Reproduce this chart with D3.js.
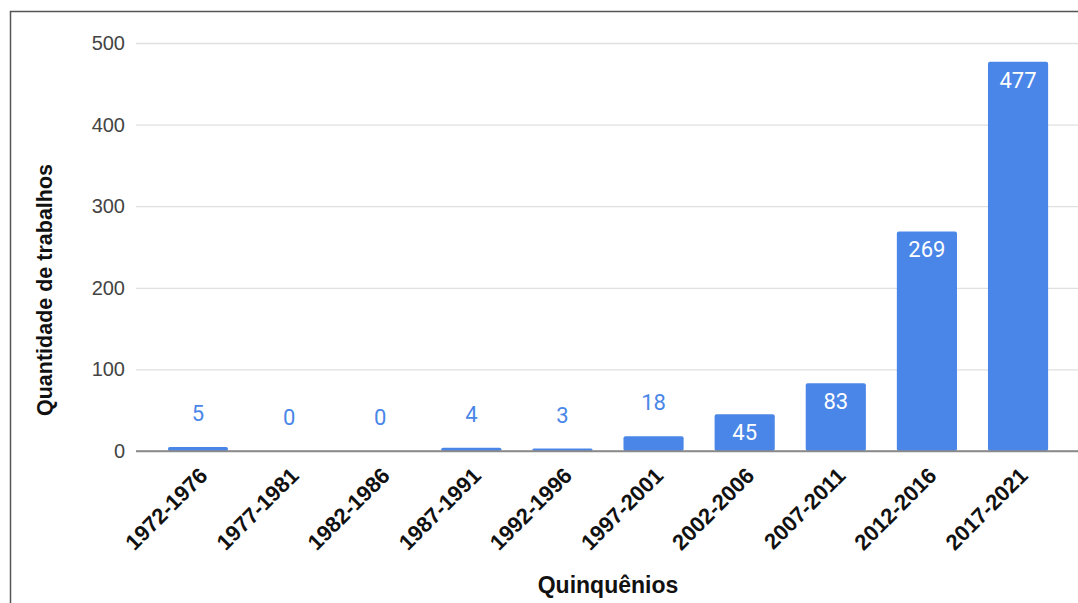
<!DOCTYPE html>
<html>
<head>
<meta charset="utf-8">
<script src="https://cdn.jsdelivr.net/npm/d3@7"></script>
<style>
  html, body { margin: 0; padding: 0; background: #fff; }
  svg { display: block; }
</style>
</head>
<body>
<svg id="chart"></svg>
<script>
// --- data ---
const periods = ["1972-1976", "1977-1981", "1982-1986", "1987-1991", "1992-1996",
                 "1997-2001", "2002-2006", "2007-2011", "2012-2016", "2017-2021"];
const counts = [5, 0, 0, 4, 3, 18, 45, 83, 269, 477];
const yTicks = [0, 100, 200, 300, 400, 500];

const yTitle = "Quantidade de trabalhos";
const xTitle = "Quinquênios";

// --- setup ---
const width = 1078;
const height = 603;
const barColor = "#4a86e8";
const textFont = "'Liberation Sans', Arial, sans-serif";
const valueFont = "Roboto, 'Liberation Sans', Arial, sans-serif";

const svg = d3.select("#chart")
    .attr("width", width)
    .attr("height", height);

// outer frame (runs off the right and bottom edges)
svg.append("rect")
    .attr("x", 10.5)
    .attr("y", 11.5)
    .attr("width", width + 20)
    .attr("height", height + 20)
    .attr("fill", "none")
    .attr("stroke", "#555")
    .attr("stroke-width", 1.5);

const x = d3.scaleBand()
    .domain(periods)
    .range([136, 1080])
    .paddingInner(0.34)
    .paddingOuter(0.35);

const y = d3.scaleLinear()
    .domain([0, 500])
    .range([451, 43]);

// gridlines + y labels
const yAxis = d3.axisLeft(y)
    .tickValues(yTicks)
    .tickSize(-(width - 136))
    .tickPadding(11);

const gy = svg.append("g")
    .attr("transform", "translate(136,0)")
    .call(yAxis);
gy.select(".domain").remove();
gy.selectAll(".tick line")
    .attr("stroke", d => d === 0 ? "#8a8a8a" : "#e0e0e0")
    .attr("stroke-width", d => d === 0 ? 1.5 : 1.3);
gy.selectAll(".tick text")
    .attr("fill", "#444")
    .style("font-family", textFont)
    .style("font-size", "20px");

// bars
svg.append("g")
    .selectAll("rect")
    .data(periods)
    .enter()
    .append("rect")
    .attr("x", (d, i) => x(d))
    .attr("y", (d, i) => y(counts[i]))
    .attr("width", x.bandwidth())
    .attr("height", (d, i) => y(0) - y(counts[i]))
    .attr("rx", 2)
    .attr("fill", barColor);

// keep axis line on top of bar bottoms
svg.append("line")
    .attr("x1", 136).attr("x2", width)
    .attr("y1", y(0)).attr("y2", y(0))
    .attr("stroke", "#8a8a8a")
    .attr("stroke-width", 1.5);

// value labels: inside the bar when it is tall enough, otherwise above
svg.append("g")
    .selectAll("text")
    .data(periods)
    .enter()
    .append("text")
    .attr("x", d => x(d) + x.bandwidth() / 2)
    .attr("y", (d, i) => {
        const top = y(counts[i]);
        return (y(0) - top) > 30 ? top + 26 : top - 26;
    })
    .attr("text-anchor", "middle")
    .attr("fill", (d, i) => (y(0) - y(counts[i])) > 30 ? "#fff" : barColor)
    .style("font-family", valueFont)
    .style("font-size", "22px")
    .text((d, i) => counts[i]);

// x category labels, rotated
svg.append("g")
    .selectAll("text")
    .data(periods)
    .enter()
    .append("text")
    .attr("transform", d => `translate(${x(d) + x.bandwidth() / 2 + 11},477) rotate(-45)`)
    .attr("text-anchor", "end")
    .attr("fill", "#111")
    .style("font-family", textFont)
    .style("font-weight", "bold")
    .style("font-size", "22px")
    .text(d => d);

// axis titles
svg.append("text")
    .attr("transform", "translate(52,290) rotate(-90)")
    .attr("text-anchor", "middle")
    .attr("fill", "#111")
    .style("font-family", textFont)
    .style("font-weight", "bold")
    .style("font-size", "21.5px")
    .text(yTitle);

svg.append("text")
    .attr("x", 608)
    .attr("y", 593)
    .attr("text-anchor", "middle")
    .attr("fill", "#111")
    .style("font-family", textFont)
    .style("font-weight", "bold")
    .style("font-size", "23px")
    .text(xTitle);
</script>
</body>
</html>
